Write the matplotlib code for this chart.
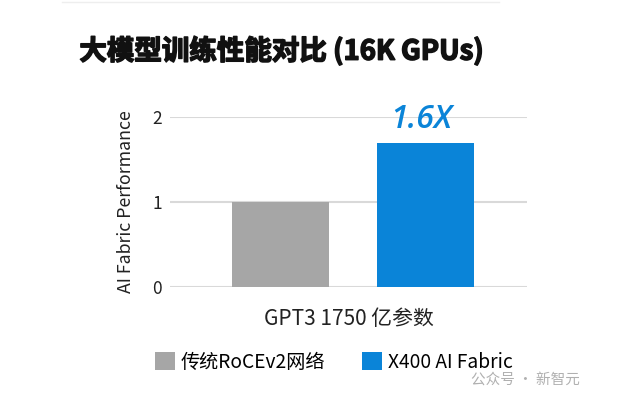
import matplotlib.pyplot as plt
import matplotlib.patheffects as pe
from matplotlib.patches import Patch
from matplotlib.lines import Line2D

plt.rcParams['font.family'] = ['Noto Sans CJK SC', 'DejaVu Sans']

# data
category = ['GPT3 1750 亿参数']
series_names = ['传统RoCEv2网络', 'X400 AI Fabric']
series_values = [1.0, 1.7]
series_colors = ['#a6a6a6', '#0a84d8']
ratio_label = '1.6X'
y_ticks = [0, 1, 2]

fig = plt.figure(figsize=(6.24, 3.97), dpi=100)
ax = fig.add_axes([0.2724, 0.277, 0.572, 0.428])

offsets = [-0.19, 0.217]
width = 0.272
for off, val, col in zip(offsets, series_values, series_colors):
    ax.bar(off, val, width=width, color=col, zorder=3)

ax.set_xlim(-0.5, 0.5)
ax.set_ylim(0, 2)
ax.set_yticks(y_ticks)
ax.set_yticklabels([str(t) for t in y_ticks], fontsize=12.5, color='#222222')
ax.set_xticks([0])
ax.set_xticklabels(category, fontsize=15, color='#222222')
ax.tick_params(length=0, axis='y', pad=6)
ax.tick_params(length=0, axis='x', pad=15)
ax.grid(axis='y', color='#d9d9d9', linewidth=1.5, zorder=0)
for s in ax.spines.values():
    s.set_visible(False)
ax.set_ylabel('AI Fabric Performance', fontsize=12.8, color='#222222', labelpad=12)

# ratio label above the blue bar
ax.text(offsets[1] - 0.012, 1.97, ratio_label, ha='center', va='center', fontsize=23,
        style='italic', fontweight='semibold', color='#0a84d8',
        family=['Open Sans', 'DejaVu Sans'], clip_on=False)

title = fig.text(0.451, 0.872, '大模型训练性能对比 (16K GPUs)', ha='center', va='center',
                 fontsize=19.8, fontweight='bold', color='#111111')
title.set_path_effects([pe.withStroke(linewidth=1.1, foreground='#111111')])

handles = [Patch(facecolor=c) for c in series_colors]
fig.legend(handles, series_names, loc='center left', bbox_to_anchor=(0.22, 0.088),
           ncol=2, frameon=False, fontsize=13.8, handlelength=1.05, handleheight=1.05,
           handletextpad=0.3, columnspacing=1.95)

# watermark and top rule
fig.text(0.755, 0.045, '公众号 · 新智元', fontsize=10.5, color='#b0b0b0', va='center')
fig.add_artist(Line2D([0.1, 0.8], [0.995, 0.995], color='#eeeeee', linewidth=1))

fig.savefig('out.png', dpi=100)
